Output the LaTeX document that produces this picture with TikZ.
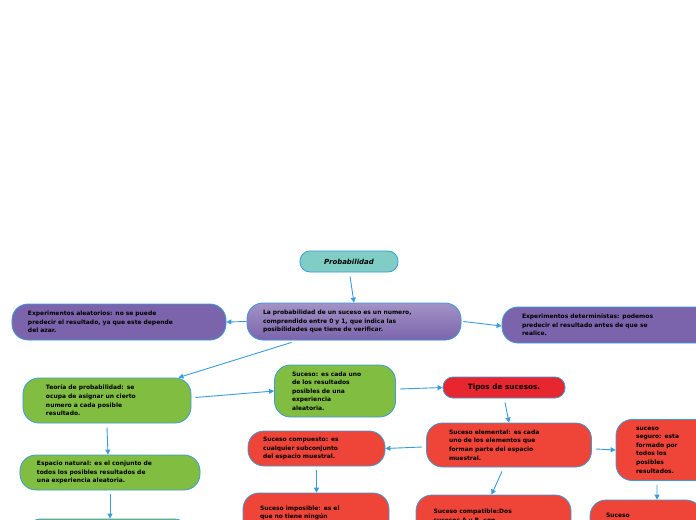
\documentclass[tikz,border=0pt]{standalone}
\usepackage{fontspec}
\setmainfont{DejaVu Sans}
\usetikzlibrary{arrows.meta}
\definecolor{bd}{HTML}{3A9BDC}
\definecolor{purp}{HTML}{7B64AC}
\definecolor{grn}{HTML}{80BD41}
\definecolor{rd}{HTML}{EF4538}
\definecolor{rd2}{HTML}{E8262F}
\definecolor{teal}{HTML}{7FCDC4}
\tikzset{
 box/.style={draw=bd,line width=0.8pt,rounded corners=16pt,inner sep=0pt,
   font=\fontsize{6}{8.6}\selectfont\bfseries,align=left,anchor=center},
 pbox/.style={box,fill=purp},
 gbox/.style={box,fill=grn},
 rbox/.style={box,fill=rd},
 conn/.style={draw=bd,line width=0.9pt,-{Triangle[length=5pt,width=5pt]}}
}
\begin{document}
\begin{tikzpicture}[x=1bp,y=-1bp]
\useasboundingbox (0,0) rectangle (696,520);
\clip (0,0) rectangle (696,520);
\node[box,fill=teal,minimum width=98bp,minimum height=21bp,rounded corners=10pt,font=\fontsize{7}{8}\selectfont\bfseries\itshape,align=center] (prob) at (349,261.5) {Probabilidad};
\node[pbox,top color=purp!70!white,bottom color=purp,minimum width=214bp,minimum height=37bp,text width=182bp] (main) at (354,321.5) {La probabilidad de un suceso es un numero,\\comprendido entre 0 y 1, que indica las\\posibilidades que tiene de verificar.};
\node[pbox,minimum width=214bp,minimum height=36bp,text width=182bp] (alea) at (119,322) {Experimentos aleatorios: no se puede\\predecir el resultado, ya que este depende\\del azar.};
\node[pbox,minimum width=222bp,minimum height=36bp,text width=182bp] (det) at (613,325) {Experimentos deterministas: podemos\\predecir el resultado antes de que se\\realice.};
\node[gbox,minimum width=168bp,minimum height=45bp,text width=122bp] (teo) at (107,400.5) {Teoría de probabilidad: se\\ocupa de asignar un cierto\\numero a cada posible\\resultado.};
\node[gbox,minimum width=121bp,minimum height=52bp,text width=86bp] (suc) at (335,391) {Suceso: es cada uno\\de los resultados\\posibles de una\\experiencia\\aleatoria.};
\node[box,fill=rd2,minimum width=122bp,minimum height=21bp,rounded corners=10pt,font=\fontsize{7.3}{8}\selectfont\bfseries,align=center] (tipos) at (504,387.5) {Tipos de sucesos.};
\node[rbox,minimum width=165bp,minimum height=44bp,text width=120bp] (elem) at (509,445) {Suceso elemental: es cada\\uno de los elementos que\\forman parte del espacio\\muestral.};
\node[rbox,minimum width=100bp,minimum height=61bp,text width=60bp] (seg) at (666,450) {suceso\\seguro: esta\\formado por\\todos los\\posibles\\resultados.};
\node[rbox,minimum width=137bp,minimum height=35bp,text width=107bp] (comp) at (316.5,448.5) {Suceso compuesto: es\\cualquier subconjunto\\del espacio muestral.};
\node[gbox,minimum width=180bp,minimum height=35bp,text width=146bp] (esp) at (110,472.5) {Espacio natural: es el conjunto de\\todos los posibles resultados de\\una experiencia aleatoria.};
\node[rbox,minimum width=146bp,minimum height=44bp,text width=112bp,text depth=14bp] (imp) at (316,515) {Suceso imposible: es el\\que no tiene ningún\\elemento.};
\node[rbox,minimum width=155bp,minimum height=46bp,text width=120bp,text depth=13bp] (cpt) at (493.5,518) {Suceso compatible:Dos\\sucesos A y B, son\\compatibles cuando tienen};
\node[rbox,minimum width=112bp,minimum height=42bp,text width=80bp,text depth=12bp] (inc) at (646,521) {Suceso\\incompatibles:Dos\\sucesos};
\node[gbox,minimum width=165bp,minimum height=30bp] (low) at (107.5,534) {};
\draw[conn] (prob.south) ++(1,4) -- (main.north);
\draw[conn] (main.west) -- (alea.east);
\draw[conn] (main.east) ++(2,0) -- ([yshift=-1bp]det.west);
\draw[conn] (main.south west) ++(45,2) -- ([xshift=-13bp]teo.north east);
\draw[conn] (teo.east) ++(4,-3) -- (suc.west);
\draw[conn] (suc.east) ++(4,-2) -- (tipos.west);
\draw[conn] (tipos.south) ++(1,4) -- (elem.north);
\draw[conn] (elem.west) ++(-4,2) -- (comp.east);
\draw[conn] (elem.east) ++(4,4) -- (seg.west);
\draw[conn] (elem.south) ++(-7,4) -- ([xshift=-2bp]cpt.north);
\draw[conn] (seg.south) ++(-9,4) -- ([xshift=-9bp]seg.south |- inc.north);
\draw[conn] (comp.south) ++(0,4) -- (comp.south |- imp.north);
\draw[conn] (teo.south) ++(0,4) -- ([xshift=1bp]teo.south |- esp.north);
\draw[conn] (esp.south) ++(0,4) -- (esp.south |- low.north);
\end{tikzpicture}
\end{document}
